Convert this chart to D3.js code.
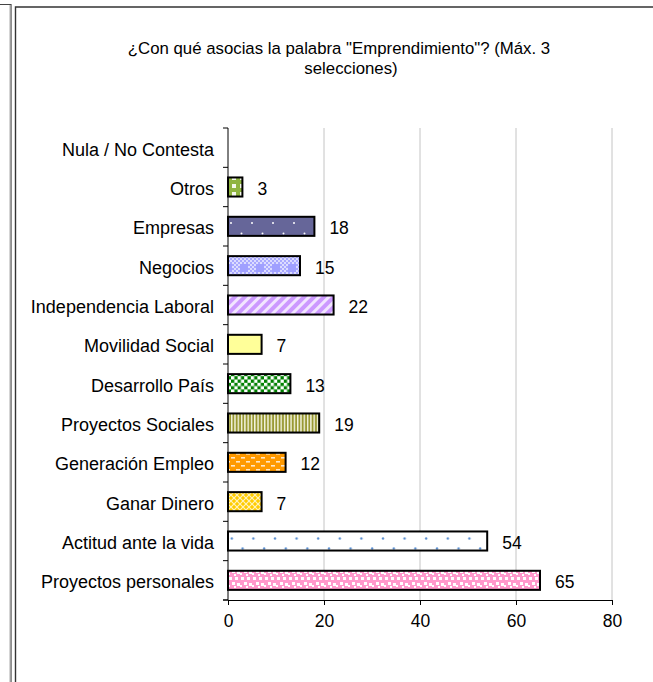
<!DOCTYPE html>
<html><head><meta charset="utf-8">
<script src="https://cdn.jsdelivr.net/npm/d3@7"></script>
<style>
html,body{margin:0;padding:0;background:#fff;}
svg{display:block;font-family:"Liberation Sans",Arial,sans-serif;}
</style></head>
<body>
<svg id="chart" width="653" height="682"></svg>
<script>
const categories = ["Nula / No Contesta","Otros","Empresas","Negocios","Independencia Laboral","Movilidad Social","Desarrollo País","Proyectos Sociales","Generación Empleo","Ganar Dinero","Actitud ante la vida","Proyectos personales"];
const values = [0,3,18,15,22,7,13,19,12,7,54,65];
const patternIds = ["none","pOtros","pEmpresas","pNegocios","pIndep","pMovil","pDesa","pProySoc","pGener","pGanar","pActitud","pProyPers"];
const xTicks = [0,20,40,60,80];
const titleLines = ["¿Con qué asocias la palabra \"Emprendimiento\"? (Máx. 3","selecciones)"];

const svg = d3.select("#chart");
const defs = svg.append("defs");

function pat(id, w, h, bg, extra){
  const p = defs.append("pattern").attr("id",id).attr("patternUnits","userSpaceOnUse").attr("width",w).attr("height",h);
  p.append("rect").attr("width",w).attr("height",h).attr("fill",bg);
  if(extra) extra(p);
  return p;
}
pat("pOtros",8,8,"#8fb440",p=>{p.append("rect").attr("x",0).attr("y",0).attr("width",4).attr("height",4).attr("fill","#f4f8ea");});
pat("pEmpresas",21,21,"#666699",p=>{
  p.append("circle").attr("cx",10.5).attr("cy",2.5).attr("r",1).attr("fill","#fff");
  p.append("circle").attr("cx",0).attr("cy",13).attr("r",1).attr("fill","#fff");
  p.append("circle").attr("cx",21).attr("cy",13).attr("r",1).attr("fill","#fff");
});
pat("pNegocios",16,16,"#dcdcff",p=>{
  for(let i=0;i<16;i+=2)for(let j=0;j<16;j+=2){ if(((i+j)/2)%2===0) p.append("rect").attr("x",i).attr("y",j).attr("width",2).attr("height",2).attr("fill","#a8a8ff"); }
  p.append("rect").attr("x",0).attr("y",8).attr("width",8).attr("height",8).attr("fill","#a0a0ff");
});
pat("pIndep",7,7,"#cc99ff",p=>{p.append("rect").attr("width",3).attr("height",7).attr("fill","#f2e6ff");}).attr("patternTransform","rotate(45)");
pat("pMovil",4,4,"#ffff99");
pat("pDesa",6.6,6.6,"#008000",p=>{
  p.append("rect").attr("x",0).attr("y",0).attr("width",3.3).attr("height",3.3).attr("fill","#fff");
  p.append("rect").attr("x",3.3).attr("y",3.3).attr("width",3.3).attr("height",3.3).attr("fill","#fff");
});
pat("pProySoc",3.3,4,"#999933",p=>{p.append("rect").attr("x",0).attr("width",1.4).attr("height",4).attr("fill","#f4f4e0");});
pat("pGener",10,8,"#ff9900",p=>{
  p.append("rect").attr("x",1).attr("y",1).attr("width",4).attr("height",1.6).attr("fill","#ffe8c8");
  p.append("rect").attr("x",6).attr("y",5).attr("width",4).attr("height",1.6).attr("fill","#ffe8c8");
});
pat("pGanar",6,6,"#ffcc00",p=>{
  p.append("path").attr("d","M0,0L6,6M6,0L0,6").attr("stroke","#fff3c0").attr("stroke-width",1.2);
});
pat("pActitud",21.6,20,"#ffffff",p=>{
  p.append("circle").attr("cx",5).attr("cy",8.5).attr("r",1.2).attr("fill","#5b8fd0");
  p.append("circle").attr("cx",15.8).attr("cy",18.5).attr("r",1.2).attr("fill","#5b8fd0");
});
pat("pProyPers",12,12,"#ff99cc",p=>{
  [[1,1,3,3],[7,1,3,3],[4,6,3,3],[9,7,3,3],[0,9,2,2],[6,10,2,2]].forEach(d=>
    p.append("rect").attr("x",d[0]).attr("y",d[1]).attr("width",d[2]).attr("height",d[3]).attr("fill","#fff"));
});

// frames
svg.append("path").attr("d","M0,4.5H11V682").attr("fill","none").attr("stroke","#444").attr("stroke-width",1.2);
svg.append("line").attr("x1",10).attr("x2",10).attr("y1",5).attr("y2",682).attr("stroke","#aaa").attr("stroke-width",1);
svg.append("path").attr("d","M15.5,682V7H653").attr("fill","none").attr("stroke","#333").attr("stroke-width",1.4);

const x = d3.scaleLinear().domain([0,80]).range([228,612]);
const y = d3.scaleBand().domain(categories).range([128,600]).paddingInner(0.515).paddingOuter(0.2575);

// title
svg.append("text").attr("x",339).attr("y",54).attr("text-anchor","middle").attr("font-size",16.8).text(titleLines[0]);
svg.append("text").attr("x",351).attr("y",74).attr("text-anchor","middle").attr("font-size",16.8).text(titleLines[1]);

// gridlines
svg.append("g").selectAll("line").data(xTicks.slice(1)).join("line")
  .attr("x1",d=>x(d)).attr("x2",d=>x(d)).attr("y1",128).attr("y2",600)
  .attr("stroke","#c4c4c4").attr("stroke-width",1);

// bars
const step = y.step();
svg.append("g").selectAll("rect").data(values.map((v,i)=>({c:categories[i],v,p:patternIds[i]})).filter(d=>d.v>0)).join("rect")
  .attr("x",x(0)).attr("y",d=>y(d.c)).attr("width",d=>x(d.v)-x(0)).attr("height",y.bandwidth())
  .attr("fill",d=>`url(#${d.p})`).attr("stroke","#000").attr("stroke-width",2);

// value labels
svg.append("g").selectAll("text").data(values.map((v,i)=>({c:categories[i],v})).filter(d=>d.v>0)).join("text")
  .attr("x",d=>x(d.v)+15).attr("y",d=>y(d.c)+y.bandwidth()/2+8).attr("font-size",17.5).text(d=>d.v);

// y axis
svg.append("line").attr("x1",228).attr("x2",228).attr("y1",128).attr("y2",600).attr("stroke","#000");
svg.append("g").selectAll("line").data(d3.range(categories.length+1)).join("line")
  .attr("x1",223).attr("x2",228).attr("y1",i=>128+i*step).attr("y2",i=>128+i*step).attr("stroke","#000");
svg.append("g").selectAll("text").data(categories).join("text")
  .attr("x",214).attr("y",d=>y(d)+y.bandwidth()/2+8).attr("text-anchor","end").attr("font-size",18).text(d=>d);

// x axis
const xa = svg.append("g").attr("transform","translate(0,600)")
  .call(d3.axisBottom(x).tickValues(xTicks).tickSize(5).tickSizeOuter(0).tickPadding(10));
xa.select(".domain").attr("stroke","#000");
xa.selectAll(".tick line").attr("stroke","#000");
xa.selectAll(".tick text").attr("font-size",17.5).attr("font-family","Liberation Sans, Arial, sans-serif").attr("fill","#000");
svg.append("line").attr("x1",223).attr("x2",228).attr("y1",600).attr("y2",600).attr("stroke","#000");
</script>
</body></html>
